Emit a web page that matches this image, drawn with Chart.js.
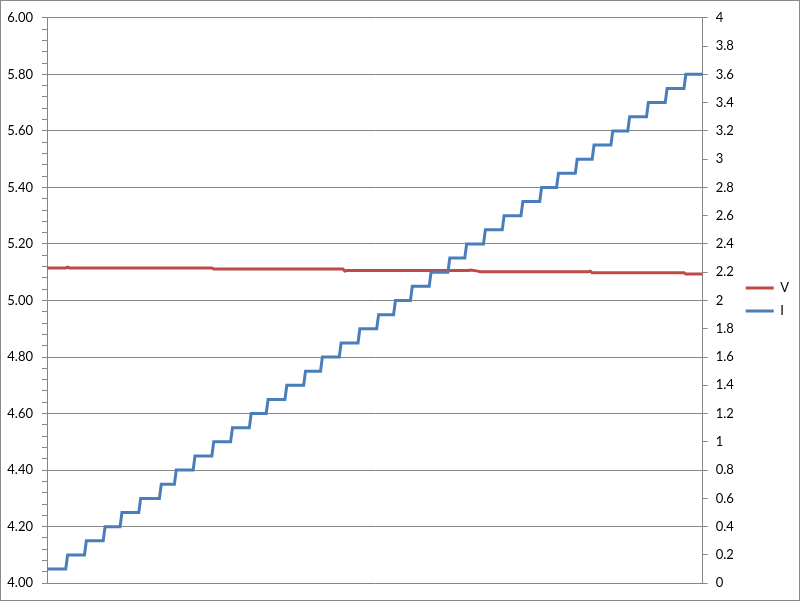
<!DOCTYPE html>
<html>
<head>
<meta charset="utf-8">
<script src="https://cdn.jsdelivr.net/npm/chart.js@4.4.1/dist/chart.umd.min.js"></script>
<style>
  html, body { margin: 0; padding: 0; background: #fff; }
  #wrap { width: 800px; height: 601px; box-sizing: border-box; border: 1px solid #898989; }
  #wrap canvas { display: block; }
</style>
</head>
<body>
<div id="wrap"><canvas id="myChart" width="798" height="599"></canvas></div>
<script>
// sample index runs 0..350 along the bottom (no labels shown)
let lastSample = 350;

// V: voltage, left axis
let vSamples = [0, 10, 11, 12, 88, 89, 158, 159, 160, 225, 226, 230, 231, 289, 290, 291, 340, 341, 350];
let vValues = [5.115, 5.115, 5.118, 5.115, 5.115, 5.111, 5.111, 5.104, 5.106, 5.106, 5.108, 5.104, 5.102, 5.102, 5.104, 5.098, 5.098, 5.094, 5.094];

// I: current, right axis - staircase levels and the sample where each new level starts
let iLevels = [0.1, 0.2, 0.3, 0.4, 0.5, 0.6, 0.7, 0.8, 0.9, 1.0, 1.1, 1.2, 1.3, 1.4, 1.5, 1.6, 1.7, 1.8,
               1.9, 2.0, 2.1, 2.2, 2.3, 2.4, 2.5, 2.6, 2.7, 2.8, 2.9, 3.0, 3.1, 3.2, 3.3, 3.4, 3.5, 3.6];
let iRise = [11, 21, 31, 40, 50, 61, 69, 79, 89, 99, 109, 118, 128, 138, 147, 157, 167, 177,
             186, 195, 205, 215, 224, 234, 244, 254, 264, 273, 283, 292, 302, 311, 321, 331, 341];

let gray = '#868686';

function vPoints() {
  let pts = [];
  for (let i = 0; i < vSamples.length; i++) {
    pts.push({x: vSamples[i], y: vValues[i]});
  }
  return pts;
}

function iPoints() {
  let pts = [];
  for (let k = 0; k < iLevels.length; k++) {
    let start = k === 0 ? 0 : iRise[k - 1];
    let end = k === iLevels.length - 1 ? lastSample : iRise[k] - 1;
    pts.push({x: start, y: iLevels[k]});
    pts.push({x: end, y: iLevels[k]});
  }
  return pts;
}

function isMajor(v) {
  return Math.abs(v * 5 - Math.round(v * 5)) < 1e-6;
}

Chart.defaults.font.family = 'Lato, "Open Sans", sans-serif';
Chart.defaults.font.size = 13;
Chart.defaults.color = '#000';

let ctx = document.getElementById('myChart').getContext('2d');
let myChart = new Chart(ctx, {
  type: 'line',
  data: {
    datasets: [{
      label: 'V',
      data: vPoints(),
      yAxisID: 'y',
      borderColor: '#BE4B48',
      backgroundColor: '#BE4B48',
      borderWidth: 3,
      pointRadius: 0,
      order: 2
    }, {
      label: 'I',
      data: iPoints(),
      yAxisID: 'y1',
      borderColor: '#4A7EBB',
      backgroundColor: '#4A7EBB',
      borderWidth: 3,
      pointRadius: 0,
      order: 1
    }]
  },
  options: {
    responsive: false,
    animation: false,
    parsing: false,
    layout: { padding: { top: 14, bottom: 16, left: 0, right: 0 } },
    plugins: {
      tooltip: { enabled: false },
      legend: {
        position: 'right',
        labels: {
          usePointStyle: true,
          pointStyle: 'line',
          pointStyleWidth: 28,
          padding: 10,
          sort: (a, b) => a.datasetIndex - b.datasetIndex
        }
      }
    },
    scales: {
      x: {
        type: 'linear',
        min: 0,
        max: lastSample,
        display: false
      },
      y: {
        position: 'left',
        min: 4,
        max: 6,
        afterFit: (scale) => { scale.width = 46; },
        ticks: {
          stepSize: 0.04,
          autoSkip: false,
          padding: 9,
          callback: (v) => isMajor(v) ? v.toFixed(2) : ''
        },
        grid: {
          color: (c) => isMajor(c.tick.value) ? gray : 'rgba(0,0,0,0)',
          tickColor: gray,
          tickLength: 5
        },
        border: { color: gray }
      },
      y1: {
        position: 'right',
        min: 0,
        max: 4,
        afterFit: (scale) => { scale.width = 33; },
        ticks: {
          stepSize: 0.2,
          autoSkip: false,
          padding: 8,
          callback: (v) => String(+v.toFixed(1))
        },
        grid: {
          drawOnChartArea: false,
          tickColor: gray,
          tickLength: 5
        },
        border: { color: gray }
      }
    }
  }
});
</script>
</body>
</html>
